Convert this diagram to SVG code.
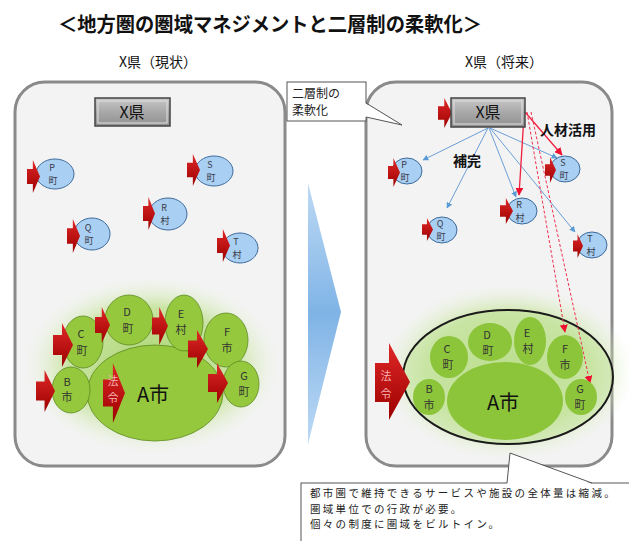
<svg xmlns="http://www.w3.org/2000/svg" xmlns:xlink="http://www.w3.org/1999/xlink" width="629" height="541" viewBox="0 0 629 541">
<defs>
<style>
text{font-family:"Noto Sans CJK JP","Liberation Sans",sans-serif;}
.ttl{font-size:20px;font-weight:bold;fill:#111;}
.sub{font-size:14px;fill:#111;}
.panel{fill:#f3f3f3;stroke:#8a8a8a;stroke-width:3;}
.town{fill:#a9d0f2;stroke:#3d6a9c;stroke-width:1;}
.tt{font-size:9px;fill:#3a3a4a;text-anchor:middle;}
.grn{fill:#95c83c;stroke:#5d8a22;stroke-width:0.8;}
.grn2{fill:#8cc43a;}
.gt{font-size:11px;fill:#333;text-anchor:middle;}
.big{font-size:20px;fill:#111;text-anchor:middle;}
.pref{fill:url(#gbox);stroke:#444;stroke-width:1.5;}
.pt{font-size:16px;fill:#111;text-anchor:middle;}
.lbl{font-size:14px;fill:#111;font-weight:bold;}
.call{fill:#fff;stroke:#555;stroke-width:1;}
.ct{font-size:12px;fill:#222;}
.cb{font-size:10.5px;fill:#222;letter-spacing:2.3px;}
.blue{stroke:#6a9fd6;stroke-width:1;fill:none;marker-end:url(#mb);}
.red{stroke:#f02040;stroke-width:1.3;fill:none;marker-end:url(#mr);}
.dash{stroke:#f03050;stroke-width:1;fill:none;stroke-dasharray:3 2;marker-end:url(#mr);}
.hr{font-size:11px;fill:#f6b0b0;text-anchor:middle;}
</style>
<linearGradient id="gred" x1="0" y1="0" x2="0" y2="1">
<stop offset="0" stop-color="#e02828"/><stop offset="1" stop-color="#9c0000"/>
</linearGradient>
<linearGradient id="gbox" x1="0" y1="0" x2="0" y2="1">
<stop offset="0" stop-color="#c8c8c8"/><stop offset="0.5" stop-color="#a8a8a8"/><stop offset="1" stop-color="#909090"/>
</linearGradient>
<linearGradient id="gtri" x1="0" y1="0" x2="0" y2="1">
<stop offset="0" stop-color="#8fbfec" stop-opacity="0.6"/><stop offset="0.5" stop-color="#7fb3e6"/><stop offset="1" stop-color="#8fbfec" stop-opacity="0.6"/>
</linearGradient>
<radialGradient id="glow">
<stop offset="0" stop-color="#a9d46e"/><stop offset="0.65" stop-color="#bfe08f" stop-opacity="0.8"/><stop offset="1" stop-color="#e8f3d8" stop-opacity="0"/>
</radialGradient>
<symbol id="rarr" viewBox="0 0 20 40" preserveAspectRatio="none">
<path d="M0,11 L9,11 L9,0 L20,20 L9,40 L9,29 L0,29 Z" fill="url(#gred)"/>
</symbol>
<marker id="mb" viewBox="0 0 10 10" refX="9" refY="5" markerWidth="6" markerHeight="6" orient="auto" markerUnits="userSpaceOnUse">
<path d="M0,0 L10,5 L0,10 Z" fill="#5b9bd5"/>
</marker>
<marker id="mr" viewBox="0 0 10 10" refX="9" refY="5" markerWidth="8" markerHeight="8" orient="auto" markerUnits="userSpaceOnUse">
<path d="M0,0 L10,5 L0,10 Z" fill="#f01030"/>
</marker>
</defs>
<rect width="629" height="541" fill="#fff"/>

<text class="ttl" x="58" y="32" textLength="424" lengthAdjust="spacingAndGlyphs">＜地方圏の圏域マネジメントと二層制の柔軟化＞</text>
<text class="sub" x="158" y="67" text-anchor="middle">X県（現状）</text>
<text class="sub" x="504" y="67" text-anchor="middle">X県（将来）</text>

<!-- middle arrow -->
<polygon points="308,183 341,312 308,444" fill="url(#gtri)"/>

<!-- LEFT PANEL -->
<g id="left-panel">
<rect class="panel" x="15" y="82" width="270" height="384" rx="30"/>
<ellipse cx="152" cy="365" rx="128" ry="88" fill="url(#glow)"/>
</g>
<g id="L-X">
<rect class="pref" x="95" y="98" width="75" height="28"/>
<rect x="98" y="101" width="69" height="22" fill="none" stroke="#e0e0e0" stroke-width="1"/>
<text class="pt" x="132" y="118">X県</text>
</g>
<g id="L-P"><ellipse class="town" cx="55" cy="174" rx="19" ry="15"/><use href="#rarr" x="27" y="160" width="13" height="33"/><text class="tt" x="52" y="171">P</text><text class="tt" x="53" y="184">町</text></g>
<g id="L-S"><ellipse class="town" cx="214" cy="171" rx="19" ry="15"/><use href="#rarr" x="187" y="154" width="13" height="32"/><text class="tt" x="210" y="168">S</text><text class="tt" x="211" y="181">町</text></g>
<g id="L-R"><ellipse class="town" cx="168" cy="214" rx="19" ry="16"/><use href="#rarr" x="143" y="197" width="12" height="33"/><text class="tt" x="164" y="211">R</text><text class="tt" x="165" y="224">村</text></g>
<g id="L-Q"><ellipse class="town" cx="92" cy="234" rx="18" ry="16"/><use href="#rarr" x="67" y="219" width="13" height="34"/><text class="tt" x="88" y="231">Q</text><text class="tt" x="89" y="244">町</text></g>
<g id="L-T"><ellipse class="town" cx="240" cy="248" rx="18" ry="15"/><use href="#rarr" x="217" y="229" width="13" height="33"/><text class="tt" x="236" y="245">T</text><text class="tt" x="237" y="258">村</text></g>

<g id="L-A"><ellipse class="grn" cx="155" cy="393" rx="68" ry="48"/><text class="big" x="153" y="402">A市</text>
<use href="#rarr" x="103" y="363" width="22" height="60"/><text class="hr" x="113" y="385">法</text><text class="hr" x="113" y="402">令</text></g>
<g id="L-B"><ellipse class="grn" cx="71" cy="390" rx="19" ry="23"/><text class="gt" x="67" y="386">B</text><text class="gt" x="67" y="401">市</text><use href="#rarr" x="36" y="370" width="19" height="42"/></g>
<g id="L-C"><ellipse class="grn" cx="83" cy="342" rx="20" ry="26"/><text class="gt" x="81" y="338">C</text><text class="gt" x="82" y="355">町</text><use href="#rarr" x="53" y="323" width="20" height="44"/></g>
<g id="L-D"><ellipse class="grn" cx="129" cy="320" rx="24" ry="25"/><text class="gt" x="127" y="316">D</text><text class="gt" x="128" y="333">町</text><use href="#rarr" x="95" y="307" width="15" height="36"/></g>
<g id="L-E"><ellipse class="grn" cx="184" cy="323" rx="19" ry="28"/><text class="gt" x="181" y="318">E</text><text class="gt" x="181" y="334">村</text><use href="#rarr" x="152" y="307" width="16" height="38"/></g>
<g id="L-F"><ellipse class="grn" cx="226" cy="340" rx="22" ry="27"/><text class="gt" x="227" y="336">F</text><text class="gt" x="227" y="352">市</text><use href="#rarr" x="188" y="330" width="20" height="38"/></g>
<g id="L-G"><ellipse class="grn" cx="241" cy="384" rx="18" ry="23"/><text class="gt" x="244" y="380">G</text><text class="gt" x="244" y="396">町</text><use href="#rarr" x="208" y="363" width="20" height="40"/></g>

<!-- RIGHT PANEL -->
<g id="right-panel">
<rect class="panel" x="366" y="82" width="246" height="384" rx="30"/>
<ellipse cx="508" cy="372" rx="126" ry="88" fill="url(#glow)"/>
<ellipse cx="508" cy="377" rx="105" ry="67" fill="#c7e4a2" fill-opacity="0.6" stroke="#1a1a1a" stroke-width="2"/>
</g>

<g id="connectors">
<line class="blue" x1="488" y1="128" x2="423" y2="160"/>
<line class="blue" x1="488" y1="128" x2="447" y2="208"/>
<line class="blue" x1="489" y1="128" x2="516" y2="197"/>
<line class="blue" x1="490" y1="128" x2="557" y2="158"/>
<line class="blue" x1="490" y1="128" x2="575" y2="232"/>
<line class="red" x1="525" y1="112" x2="562" y2="155"/>
<line class="red" x1="524" y1="116" x2="519" y2="195"/>
<line class="dash" x1="527" y1="112" x2="565" y2="332"/>
<line class="dash" x1="531" y1="112" x2="590" y2="383"/>
</g>

<g id="R-X">
<use href="#rarr" x="438" y="98" width="14" height="30"/>
<rect class="pref" x="451" y="98" width="74" height="29"/>
<rect x="454" y="101" width="68" height="23" fill="none" stroke="#e0e0e0" stroke-width="1"/>
<text class="pt" x="488" y="118">X県</text>
</g>
<text class="lbl" x="540" y="135">人材活用</text>
<text class="lbl" x="453" y="166">補完</text>

<g id="R-P"><ellipse class="town" cx="407" cy="171" rx="15" ry="13"/><use href="#rarr" x="388" y="158" width="12" height="29"/><text class="tt" x="404" y="168">P</text><text class="tt" x="405" y="181">町</text></g>
<g id="R-S"><ellipse class="town" cx="565" cy="169" rx="15" ry="13"/><use href="#rarr" x="545" y="157" width="11" height="26"/><text class="tt" x="563" y="166">S</text><text class="tt" x="564" y="179">町</text></g>
<g id="R-R"><ellipse class="town" cx="522" cy="211" rx="15" ry="13"/><use href="#rarr" x="500" y="198" width="13" height="26"/><text class="tt" x="519" y="208">R</text><text class="tt" x="520" y="221">村</text></g>
<g id="R-Q"><ellipse class="town" cx="442" cy="230" rx="15" ry="13"/><use href="#rarr" x="422" y="218" width="11" height="23"/><text class="tt" x="440" y="227">Q</text><text class="tt" x="441" y="240">町</text></g>
<g id="R-T"><ellipse class="town" cx="592" cy="245" rx="15" ry="13"/><use href="#rarr" x="573" y="234" width="10" height="24"/><text class="tt" x="590" y="242">T</text><text class="tt" x="591" y="255">村</text></g>

<g id="R-A"><ellipse class="grn2" cx="505" cy="401" rx="58" ry="39"/><text class="big" x="503" y="410">A市</text></g>
<g id="R-B"><ellipse class="grn2" cx="429" cy="397" rx="16" ry="18"/><text class="gt" x="429" y="393">B</text><text class="gt" x="429" y="409">市</text></g>
<g id="R-C"><ellipse class="grn2" cx="449" cy="357" rx="19" ry="21"/><text class="gt" x="447" y="353">C</text><text class="gt" x="448" y="369">町</text></g>
<g id="R-D"><ellipse class="grn2" cx="490" cy="342" rx="22" ry="19"/><text class="gt" x="487" y="339">D</text><text class="gt" x="488" y="355">町</text></g>
<g id="R-E"><ellipse class="grn2" cx="530" cy="341" rx="16" ry="24"/><text class="gt" x="527" y="337">E</text><text class="gt" x="528" y="353">村</text></g>
<g id="R-F"><ellipse class="grn2" cx="565" cy="357" rx="18" ry="22"/><text class="gt" x="565" y="353">F</text><text class="gt" x="565" y="369">市</text></g>
<g id="R-G"><ellipse class="grn2" cx="581" cy="397" rx="16" ry="18"/><text class="gt" x="580" y="393">G</text><text class="gt" x="580" y="409">町</text></g>

<g id="R-law"><path d="M375,363 L389,363 L389,343 L410,382 L389,420 L389,402 L375,402 Z" fill="url(#gred)"/><text class="hr" x="386" y="380">法</text><text class="hr" x="386" y="398">令</text></g>

<!-- callouts -->
<g id="callout-top">
<rect class="call" x="287" y="82" width="79" height="39"/>
<path d="M365,103 L402,125 L365,117 Z" fill="#fff"/>
<path d="M366,103 L402,125 L366,117" fill="none" stroke="#555" stroke-width="1"/>
<text class="ct" x="292" y="98">二層制の</text>
<text class="ct" x="292" y="115">柔軟化</text>
</g>
<g id="callout-bottom">
<rect class="call" x="301" y="483" width="340" height="70"/>
<path d="M507,484 L510,453 L592,484 Z" fill="#fff"/>
<path d="M507,483 L510,453 L592,483" fill="none" stroke="#555" stroke-width="1"/>
<text class="cb" x="310" y="497">都市圏で維持できるサービスや施設の全体量は縮減。</text>
<text class="cb" x="310" y="512.5">圏域単位での行政が必要。</text>
<text class="cb" x="310" y="528">個々の制度に圏域をビルトイン。</text>
</g>
</svg>
